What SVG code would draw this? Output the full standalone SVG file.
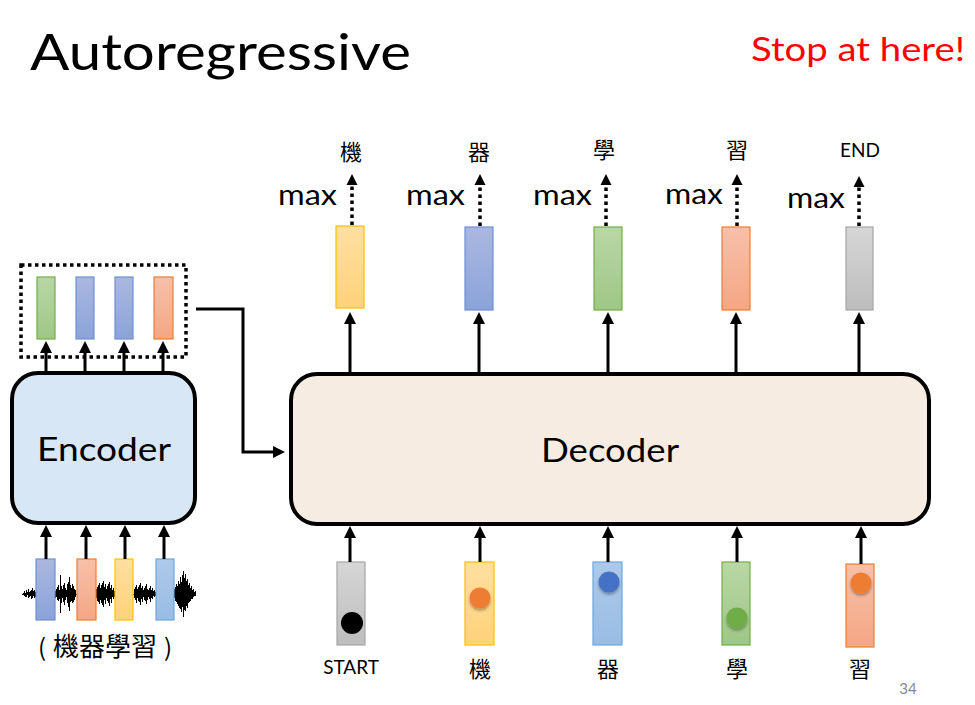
<svg xmlns="http://www.w3.org/2000/svg" width="975" height="705" viewBox="0 0 975 705">
<defs>
<linearGradient id="gGreen" x1="0" y1="0" x2="0" y2="1"><stop offset="0" stop-color="#b9d7a5"/><stop offset="1" stop-color="#9ec785"/></linearGradient>
<linearGradient id="gBlue" x1="0" y1="0" x2="0" y2="1"><stop offset="0" stop-color="#aab8e0"/><stop offset="1" stop-color="#8ba3da"/></linearGradient>
<linearGradient id="gOrange" x1="0" y1="0" x2="0" y2="1"><stop offset="0" stop-color="#f7c0aa"/><stop offset="1" stop-color="#f4a783"/></linearGradient>
<linearGradient id="gYellow" x1="0" y1="0" x2="0" y2="1"><stop offset="0" stop-color="#ffdfa0"/><stop offset="1" stop-color="#ffd27a"/></linearGradient>
<linearGradient id="gGray" x1="0" y1="0" x2="0" y2="1"><stop offset="0" stop-color="#d6d6d6"/><stop offset="1" stop-color="#bdbdbd"/></linearGradient>
<linearGradient id="gLBlue" x1="0" y1="0" x2="0" y2="1"><stop offset="0" stop-color="#adc9ea"/><stop offset="1" stop-color="#98bde4"/></linearGradient>
<marker id="ah" markerUnits="userSpaceOnUse" markerWidth="14" markerHeight="14" refX="7" refY="7" orient="auto"><path d="M0,1 L12,7 L0,13 Z" fill="#000"/></marker>
<marker id="ahs" markerUnits="userSpaceOnUse" markerWidth="14" markerHeight="14" refX="7" refY="7" orient="auto"><path d="M0,1.5 L11,7 L0,12.5 Z" fill="#000"/></marker>
<filter id="sh" x="-50%" y="-50%" width="200%" height="200%"><feDropShadow dx="0" dy="2" stdDeviation="1.5" flood-color="#000" flood-opacity="0.35"/></filter>
</defs>
<style>
text{font-family:Lato,"Open Sans","Liberation Sans","Noto Sans CJK TC",sans-serif;fill:#000}
.cjk{font-family:"Noto Sans CJK TC","Noto Sans CJK SC",sans-serif;font-size:22px}
.max{font-size:28px}
.arr{stroke:#000;stroke-width:3;fill:none}
.dot{stroke:#000;stroke-width:3.5;stroke-dasharray:3.5 3.5;fill:none}
.green{fill:url(#gGreen);stroke:#70ad47;stroke-width:1.2}
.blue{fill:url(#gBlue);stroke:#6f8fd3;stroke-width:1.2}
.orange{fill:url(#gOrange);stroke:#ed7d31;stroke-width:1.2}
.yellow{fill:url(#gYellow);stroke:#ffc000;stroke-width:1.2}
.gray{fill:url(#gGray);stroke:#a5a5a5;stroke-width:1.2}
.lblue{fill:url(#gLBlue);stroke:#6fa5dc;stroke-width:1.2}
</style>
<rect width="975" height="705" fill="#fff"/>

<text x="30" y="70" font-size="50" textLength="381" lengthAdjust="spacingAndGlyphs">Autoregressive</text>
<text x="751" y="61" font-size="33" style="fill:#ff0000" textLength="214" lengthAdjust="spacingAndGlyphs">Stop at here!</text>

<g id="waveform">
<path stroke="#000" stroke-width="1" fill="none" shape-rendering="crispEdges" d="M22,594 H196 M23,593V595 M24,591V596 M25,593V597 M26,590V597 M27,592V595 M28,589V598 M29,592V597 M30,591V596 M31,590V599 M32,588V598 M33,591V596 M34,590V598 M35,592V597 M55,591V598 M56,589V597 M57,587V600 M58,585V601 M59,590V599 M60,575V613 M61,586V603 M62,589V598 M63,585V602 M64,583V605 M65,588V600 M66,590V597 M67,584V603 M68,582V607 M69,577V611 M70,585V602 M71,588V601 M72,584V603 M73,586V602 M74,589V600 M75,590V597 M96,589V598 M97,587V601 M98,585V602 M99,583V604 M100,588V600 M101,585V603 M102,583V605 M103,581V607 M104,587V600 M105,584V604 M106,589V598 M107,586V601 M108,584V603 M109,582V606 M110,588V599 M111,585V603 M112,590V597 M113,588V599 M114,591V597 M134,589V598 M135,587V600 M136,585V603 M137,589V598 M138,587V601 M139,585V602 M140,583V605 M141,588V599 M142,586V602 M143,590V597 M144,588V600 M145,586V601 M146,584V604 M147,589V600 M148,590V597 M149,588V599 M150,586V602 M151,590V598 M152,588V599 M153,591V596 M154,590V597 M155,592V596 M174,589V598 M175,587V601 M176,584V602 M177,586V604 M178,581V606 M179,584V608 M180,577V609 M181,582V612 M182,575V607 M183,571V617 M184,578V610 M185,574V611 M186,581V606 M187,579V608 M188,585V603 M189,583V602 M190,588V601 M191,586V599 M192,590V599 M193,589V597 M194,592V596 M195,591V596"/>
</g>

<g id="encoder">
<rect x="12" y="373" width="183" height="150" rx="26" fill="#d8e7f5" stroke="#000" stroke-width="4"/>
<text x="104" y="461" font-size="32" text-anchor="middle" textLength="134" lengthAdjust="spacingAndGlyphs">Encoder</text>
</g>

<g id="encoder-inputs">
<rect class="blue" x="36" y="559" width="19" height="61"/>
<rect class="orange" x="77" y="559" width="19" height="61"/>
<rect class="yellow" x="115" y="559" width="18" height="61"/>
<rect class="lblue" x="156" y="559" width="18" height="61"/>
<text class="cjk" y="656" style="font-size:24px"><tspan x="38">(</tspan><tspan x="53" style="font-size:26px">機器學習</tspan><tspan x="164">)</tspan></text>
</g>

<g id="encoder-outputs">
<rect x="21" y="265" width="165" height="92" fill="none" stroke="#000" stroke-width="3.5" stroke-dasharray="3.5 3.5"/>
<rect class="green" x="37" y="277" width="18" height="62"/>
<rect class="blue" x="76" y="277" width="18" height="62"/>
<rect class="blue" x="115" y="277" width="18" height="62"/>
<rect class="orange" x="154" y="277" width="19" height="62"/>
</g>

<g id="decoder">
<rect x="291" y="374" width="638" height="150" rx="26" fill="#f6ece2" stroke="#000" stroke-width="4"/>
<text x="610" y="462" font-size="32" text-anchor="middle" textLength="138" lengthAdjust="spacingAndGlyphs">Decoder</text>
</g>

<g id="decoder-outputs">
<rect class="yellow" x="336" y="226" width="28" height="82"/>
<rect class="blue" x="465" y="227" width="28" height="83"/>
<rect class="green" x="594" y="227" width="28" height="83"/>
<rect class="orange" x="722" y="227" width="28" height="83"/>
<rect class="gray" x="846" y="227" width="27" height="83"/>
<text class="cjk" x="351" y="160" text-anchor="middle">機</text>
<text class="cjk" x="479" y="160" text-anchor="middle">器</text>
<text class="cjk" x="604" y="158" text-anchor="middle">學</text>
<text class="cjk" x="737" y="158" text-anchor="middle">習</text>
<text x="860" y="157" font-size="19" text-anchor="middle">END</text>
<text class="max" x="278" y="205" textLength="59" lengthAdjust="spacingAndGlyphs">max</text>
<text class="max" x="406" y="205" textLength="59" lengthAdjust="spacingAndGlyphs">max</text>
<text class="max" x="533" y="205" textLength="59" lengthAdjust="spacingAndGlyphs">max</text>
<text class="max" x="665" y="204" textLength="58" lengthAdjust="spacingAndGlyphs">max</text>
<text class="max" x="787" y="208" textLength="58" lengthAdjust="spacingAndGlyphs">max</text>
</g>

<g id="decoder-inputs">
<rect class="gray" x="337" y="562" width="28" height="83"/>
<rect class="yellow" x="465" y="562" width="29" height="83"/>
<rect class="lblue" x="593" y="562" width="29" height="83"/>
<rect class="green" x="722" y="562" width="28" height="83"/>
<rect class="orange" x="846" y="564" width="28" height="83"/>
<circle cx="352" cy="623" r="11" fill="#000"/>
<circle cx="480" cy="598" r="10.5" fill="#ed7d31" filter="url(#sh)"/>
<circle cx="609" cy="582" r="10.5" fill="#4472c4" filter="url(#sh)"/>
<circle cx="737" cy="618" r="10.5" fill="#70ad47" filter="url(#sh)"/>
<circle cx="861" cy="583" r="10.5" fill="#ed7d31" filter="url(#sh)"/>
<text x="351" y="674" font-size="19" text-anchor="middle">START</text>
<text class="cjk" x="480" y="677" text-anchor="middle">機</text>
<text class="cjk" x="608" y="677" text-anchor="middle">器</text>
<text class="cjk" x="737" y="677" text-anchor="middle">學</text>
<text class="cjk" x="860" y="677" text-anchor="middle">習</text>
</g>

<text x="908" y="694" font-size="15" text-anchor="middle" style="fill:#898989">34</text>

<g id="connectors">
<path class="arr" d="M46,559 V530" marker-end="url(#ah)"/>
<path class="arr" d="M86,559 V530" marker-end="url(#ah)"/>
<path class="arr" d="M125,559 V530" marker-end="url(#ah)"/>
<path class="arr" d="M164,559 V530" marker-end="url(#ah)"/>
<path class="arr" d="M46,372 V346" marker-end="url(#ah)"/>
<path class="arr" d="M85,372 V346" marker-end="url(#ah)"/>
<path class="arr" d="M124,372 V346" marker-end="url(#ah)"/>
<path class="arr" d="M163,372 V346" marker-end="url(#ah)"/>
<path class="arr" d="M196,309 H243 V452 H280" marker-end="url(#ah)"/>
<path class="arr" d="M350,562 V531" marker-end="url(#ah)"/>
<path class="arr" d="M480,562 V531" marker-end="url(#ah)"/>
<path class="arr" d="M608,562 V531" marker-end="url(#ah)"/>
<path class="arr" d="M737,562 V531" marker-end="url(#ah)"/>
<path class="arr" d="M861,564 V531" marker-end="url(#ah)"/>
<path class="arr" d="M350,374 V317" marker-end="url(#ah)"/>
<path class="arr" d="M479,374 V317" marker-end="url(#ah)"/>
<path class="arr" d="M608,374 V317" marker-end="url(#ah)"/>
<path class="arr" d="M736,374 V317" marker-end="url(#ah)"/>
<path class="arr" d="M859,374 V317" marker-end="url(#ah)"/>
<path class="dot" d="M352,225 V178" marker-end="url(#ahs)"/>
<path class="dot" d="M480,226 V178" marker-end="url(#ahs)"/>
<path class="dot" d="M606,226 V178" marker-end="url(#ahs)"/>
<path class="dot" d="M737,226 V178" marker-end="url(#ahs)"/>
<path class="dot" d="M859,226 V180" marker-end="url(#ahs)"/>
</g>
</svg>
